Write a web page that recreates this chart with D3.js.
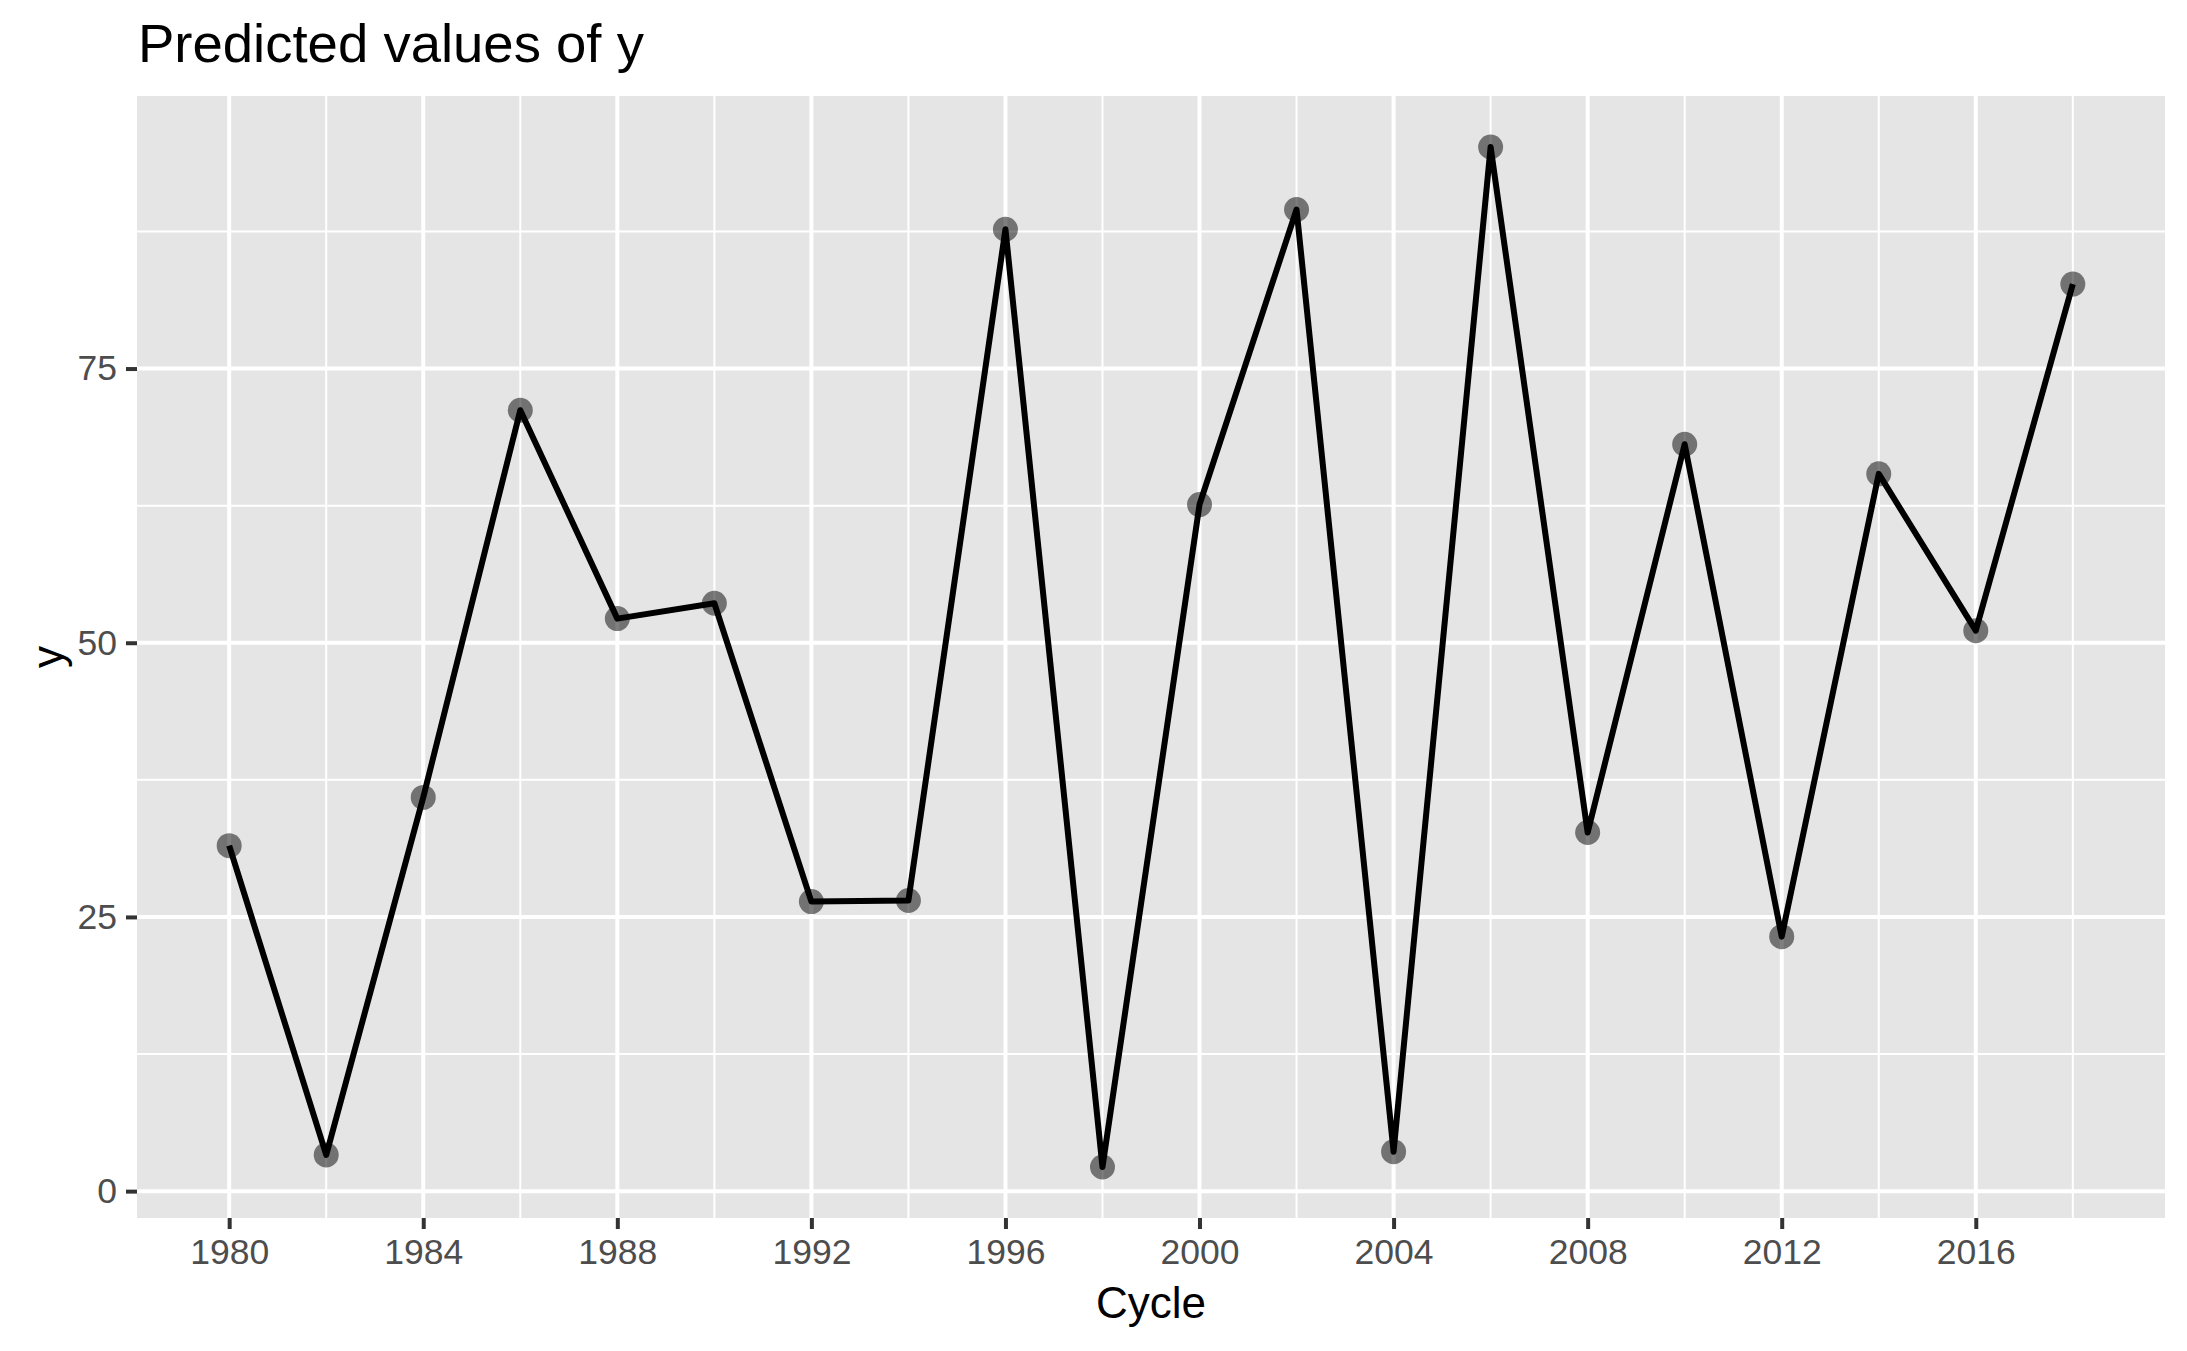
<!DOCTYPE html>
<html>
<head>
<meta charset="utf-8">
<script src="https://cdn.jsdelivr.net/npm/d3@7"></script>
<style>
  body { margin: 0; background: #fff; }
  text { font-family: "Liberation Sans", Arial, sans-serif; }
</style>
</head>
<body>
<svg id="chart" width="2187" height="1351"></svg>
<script>
const cycles = [1980, 1982, 1984, 1986, 1988, 1990, 1992, 1994, 1996, 1998,
                2000, 2002, 2004, 2006, 2008, 2010, 2012, 2014, 2016, 2018];
const predicted = [31.5, 3.3, 35.9, 71.2, 52.2, 53.6, 26.4, 26.5, 87.7, 2.2,
                   62.6, 89.5, 3.6, 95.2, 32.7, 68.1, 23.2, 65.4, 51.1, 82.7];
const xTicks = [1980, 1984, 1988, 1992, 1996, 2000, 2004, 2008, 2012, 2016];
const xMinor = [1982, 1986, 1990, 1994, 1998, 2002, 2006, 2010, 2014, 2018];
const yTicks = [0, 25, 50, 75];
const yMinor = [12.5, 37.5, 62.5, 87.5];

const svg = d3.select("#chart"),
      width = +svg.attr("width"),
      height = +svg.attr("height"),
      margin = {top: 96, right: 22, bottom: 133, left: 137};

const data = cycles.map((c, i) => ({x: c, y: predicted[i]}));

// ggplot style 5% expansion
const xr = d3.extent(cycles), yr = d3.extent(predicted);
const xPad = (xr[1] - xr[0]) * 0.05, yPad = (yr[1] - yr[0]) * 0.05;

const x = d3.scaleLinear().domain([xr[0] - xPad, xr[1] + xPad]).range([margin.left, width - margin.right]);
const y = d3.scaleLinear().domain([yr[0] - yPad, yr[1] + yPad]).range([height - margin.bottom, margin.top]);

// panel
svg.append("rect")
    .attr("x", margin.left)
    .attr("y", margin.top)
    .attr("width", width - margin.left - margin.right)
    .attr("height", height - margin.top - margin.bottom)
    .attr("fill", "#e5e5e5");

// minor grid
svg.append("g").selectAll("line").data(xMinor).join("line")
    .attr("x1", d => x(d)).attr("x2", d => x(d))
    .attr("y1", margin.top).attr("y2", height - margin.bottom)
    .attr("stroke", "#fff").attr("stroke-width", 2);
svg.append("g").selectAll("line").data(yMinor).join("line")
    .attr("y1", d => y(d)).attr("y2", d => y(d))
    .attr("x1", margin.left).attr("x2", width - margin.right)
    .attr("stroke", "#fff").attr("stroke-width", 2);

// major grid
svg.append("g").selectAll("line").data(xTicks).join("line")
    .attr("x1", d => x(d)).attr("x2", d => x(d))
    .attr("y1", margin.top).attr("y2", height - margin.bottom)
    .attr("stroke", "#fff").attr("stroke-width", 4);
svg.append("g").selectAll("line").data(yTicks).join("line")
    .attr("y1", d => y(d)).attr("y2", d => y(d))
    .attr("x1", margin.left).attr("x2", width - margin.right)
    .attr("stroke", "#fff").attr("stroke-width", 4);

// axes
const xAxis = d3.axisBottom(x).tickValues(xTicks).tickFormat(d3.format("d")).tickSize(11).tickPadding(10);
const yAxis = d3.axisLeft(y).tickValues(yTicks).tickSize(11).tickPadding(9);

const gx = svg.append("g")
    .attr("transform", `translate(0,${height - margin.bottom})`)
    .call(xAxis);
const gy = svg.append("g")
    .attr("transform", `translate(${margin.left},0)`)
    .call(yAxis);

[gx, gy].forEach(g => {
  g.select(".domain").remove();
  g.selectAll(".tick line").attr("stroke", "#333333").attr("stroke-width", 4);
  g.selectAll(".tick text")
    .attr("fill", "#4d4d4d")
    .style("font-size", "35.5px")
    .style("font-family", "Liberation Sans, Arial, sans-serif");
});

// points
svg.append("g").selectAll("circle").data(data).join("circle")
    .attr("cx", d => x(d.x))
    .attr("cy", d => y(d.y))
    .attr("r", 12.5)
    .attr("fill", "#000")
    .attr("fill-opacity", 0.5);

// line
const line = d3.line().x(d => x(d.x)).y(d => y(d.y));
svg.append("path")
    .datum(data)
    .attr("d", line)
    .attr("fill", "none")
    .attr("stroke", "#000")
    .attr("stroke-width", 6)
    .attr("stroke-linejoin", "round");

// titles
svg.append("text")
    .attr("x", margin.left + 1)
    .attr("y", 62)
    .attr("fill", "#000")
    .style("font-size", "54.5px")
    .text("Predicted values of y");

svg.append("text")
    .attr("x", (margin.left + width - margin.right) / 2)
    .attr("y", 1318)
    .attr("text-anchor", "middle")
    .attr("fill", "#000")
    .style("font-size", "44px")
    .text("Cycle");

svg.append("text")
    .attr("transform", "rotate(-90)")
    .attr("x", -(margin.top + height - margin.bottom) / 2)
    .attr("y", 63)
    .attr("text-anchor", "middle")
    .attr("fill", "#000")
    .style("font-size", "44px")
    .text("y");
</script>
</body>
</html>
